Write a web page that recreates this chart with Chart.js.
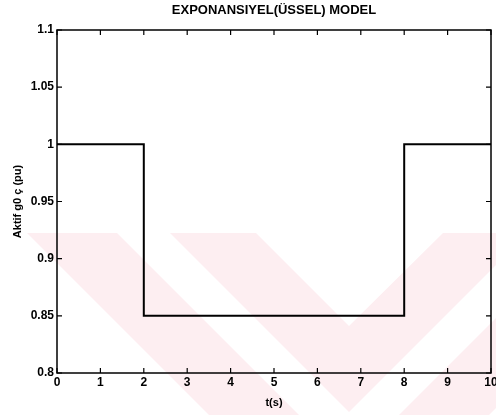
<!DOCTYPE html>
<html>
<head>
<meta charset="utf-8">
<script src="https://cdn.jsdelivr.net/npm/chart.js@4.4.0/dist/chart.umd.min.js"></script>
<style>
  html, body { margin: 0; padding: 0; background: #fff; }
  #wrap { width: 496px; height: 415px; position: relative; }
</style>
</head>
<body>
<div id="wrap"><canvas id="chart"></canvas></div>
<script>
// Step in active power: drops to 0.85 pu between t=2s and t=8s
const timeSteps = [0, 2, 8, 10];
const activePower = [1, 0.85, 1, 1];

const xTicks = [0, 1, 2, 3, 4, 5, 6, 7, 8, 9, 10];
const yTicks = [0.8, 0.85, 0.9, 0.95, 1, 1.05, 1.1];

const chartTitle = 'EXPONANSIYEL(ÜSSEL) MODEL';

const tickFont = { family: 'Liberation Sans, Arial, sans-serif', size: 12, weight: 'bold' };
const labelFont = { family: 'Liberation Sans, Arial, sans-serif', size: 11, weight: 'bold' };

// faint pink watermark behind the plot (scanned thesis page)
const watermark = {
    id: 'watermark',
    beforeDraw(chart) {
        const ctx = chart.ctx;
        ctx.save();
        ctx.fillStyle = '#fff';
        ctx.fillRect(0, 0, chart.width, chart.height);
        ctx.fillStyle = '#fdeef1';
        const chevrons = [
            [[27, 233], [117, 233], [349, 465], [581, 233], [671, 233], [349, 555]],
            [[170, 233], [256, 233], [349, 326], [443, 233], [528, 233], [349, 412]]
        ];
        chevrons.forEach(poly => {
            ctx.beginPath();
            poly.forEach((p, i) => i ? ctx.lineTo(p[0], p[1]) : ctx.moveTo(p[0], p[1]));
            ctx.closePath();
            ctx.fill();
        });
        ctx.restore();
    }
};

// MATLAB style box with inward ticks on all four sides, title centred over the axes
const frame = {
    id: 'frame',
    afterDraw(chart) {
        const { ctx, chartArea: a, scales } = chart;
        const len = 5;
        ctx.save();
        ctx.strokeStyle = '#000';
        ctx.lineWidth = 1.5;
        ctx.strokeRect(a.left, a.top, a.right - a.left, a.bottom - a.top);
        ctx.lineWidth = 1.2;
        ctx.beginPath();
        xTicks.forEach(v => {
            const px = scales.x.getPixelForValue(v);
            ctx.moveTo(px, a.bottom); ctx.lineTo(px, a.bottom - len);
            ctx.moveTo(px, a.top); ctx.lineTo(px, a.top + len);
        });
        yTicks.forEach(v => {
            const py = scales.y.getPixelForValue(v);
            ctx.moveTo(a.left, py); ctx.lineTo(a.left + len, py);
            ctx.moveTo(a.right, py); ctx.lineTo(a.right - len, py);
        });
        ctx.stroke();

        ctx.fillStyle = '#000';
        ctx.font = 'bold 13px "Liberation Sans", Arial, sans-serif';
        ctx.textAlign = 'center';
        ctx.textBaseline = 'middle';
        ctx.fillText(chartTitle, (a.left + a.right) / 2, 10);
        ctx.restore();
    }
};

const ctx = document.getElementById('chart').getContext('2d');
new Chart(ctx, {
    type: 'line',
    data: {
        datasets: [{
            data: timeSteps.map((t, i) => ({ x: t, y: activePower[i] })),
            stepped: 'before',
            borderColor: '#000',
            borderWidth: 2,
            pointRadius: 0,
            fill: false
        }]
    },
    options: {
        responsive: true,
        maintainAspectRatio: false,
        animation: false,
        layout: { padding: { left: 0, right: 5, top: 30, bottom: 0 } },
        plugins: {
            legend: { display: false },
            tooltip: { enabled: false },
            title: { display: false }
        },
        scales: {
            x: {
                type: 'linear',
                min: 0,
                max: 10,
                afterBuildTicks: s => { s.ticks = xTicks.map(v => ({ value: v })); },
                afterFit: s => { s.height = 42; s.paddingLeft = 0; s.paddingRight = 0; },
                ticks: {
                    color: '#000',
                    font: tickFont,
                    padding: 2,
                    maxRotation: 0,
                    autoSkip: false,
                    callback: v => String(v)
                },
                grid: { display: false, drawTicks: false },
                border: { display: false },
                title: {
                    display: true,
                    text: 't(s)',
                    color: '#000',
                    font: labelFont,
                    padding: { top: 0, bottom: 5 }
                }
            },
            y: {
                min: 0.8,
                max: 1.1,
                afterBuildTicks: s => { s.ticks = yTicks.map(v => ({ value: v })); },
                afterFit: s => { s.width = 57; s.paddingTop = 0; s.paddingBottom = 0; },
                ticks: {
                    color: '#000',
                    font: tickFont,
                    padding: 3,
                    autoSkip: false,
                    callback: v => String(parseFloat(v.toFixed(2)))
                },
                grid: { display: false, drawTicks: false },
                border: { display: false },
                title: {
                    display: true,
                    text: 'Aktif g0 ç (pu)',
                    color: '#000',
                    font: labelFont,
                    padding: { top: 11, bottom: 0 }
                }
            }
        }
    },
    plugins: [watermark, frame]
});
</script>
</body>
</html>
